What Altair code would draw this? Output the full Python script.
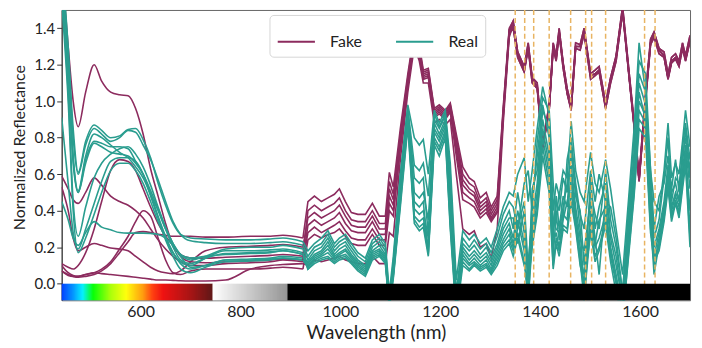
import altair as alt
import pandas as pd

# ---------------- data ----------------
VIS_WL = [442, 455, 465, 475, 490, 507, 522, 540, 558, 575, 590, 605, 620, 635, 650,
          665, 680, 700, 730, 770, 820, 860, 885, 925]
NIR_A_WL = [935, 948, 962, 975, 988, 998, 1010, 1022, 1035, 1050, 1064, 1078, 1090, 1098,
            1106, 1120, 1135, 1148, 1158, 1166, 1176, 1188, 1198, 1210, 1220, 1232, 1245,
            1258, 1268, 1280, 1292, 1302, 1314, 1326, 1338]
NIR_B_WL = [1346, 1355, 1368, 1376, 1384, 1394, 1405, 1418, 1426, 1432, 1438, 1446, 1454,
            1462, 1471, 1480, 1488, 1501, 1510, 1518, 1531, 1541, 1552, 1565, 1578, 1588,
            1598, 1611, 1621, 1628, 1638, 1648, 1656, 1663, 1671, 1678, 1685, 1691, 1700]

FAKE_VIS = {
    "F1": [1.75, 1.30, 1.00, 0.86, 1.05, 1.20, 1.11, 1.05, 1.035, 1.03, 0.96, 0.82, 0.63, 0.48, 0.33, 0.21, 0.16, 0.14, 0.14, 0.145, 0.15, 0.155, 0.16, 0.15],
    "F2": [0.59, 0.52, 0.46, 0.44, 0.50, 0.58, 0.54, 0.48, 0.45, 0.43, 0.40, 0.36, 0.30, 0.24, 0.19, 0.15, 0.12, 0.10, 0.10, 0.11, 0.115, 0.12, 0.13, 0.12],
    "F3": [0.11, 0.09, 0.08, 0.10, 0.17, 0.30, 0.45, 0.62, 0.68, 0.67, 0.62, 0.52, 0.42, 0.33, 0.26, 0.21, 0.15, 0.12, 0.115, 0.12, 0.125, 0.13, 0.135, 0.13],
    "F4": [0.07, 0.045, 0.04, 0.04, 0.05, 0.06, 0.08, 0.12, 0.19, 0.26, 0.34, 0.40, 0.37, 0.25, 0.13, 0.06, 0.05, 0.07, 0.08, 0.08, 0.08, 0.085, 0.09, 0.08],
    "F5": [0.53, 0.40, 0.25, 0.18, 0.20, 0.22, 0.21, 0.195, 0.19, 0.18, 0.15, 0.12, 0.09, 0.07, 0.06, 0.055, 0.07, 0.12, 0.18, 0.20, 0.205, 0.21, 0.215, 0.20],
    "F6": [0.07, 0.05, 0.04, 0.035, 0.04, 0.05, 0.07, 0.11, 0.17, 0.23, 0.28, 0.285, 0.28, 0.27, 0.265, 0.26, 0.26, 0.26, 0.255, 0.255, 0.26, 0.26, 0.265, 0.25],
    "F7": [0.10, 0.06, 0.045, 0.04, 0.05, 0.06, 0.055, 0.05, 0.045, 0.04, 0.035, 0.03, 0.025, 0.02, 0.02, 0.018, 0.016, 0.015, 0.015, 0.02, 0.08, 0.10, 0.105, 0.11],
}
FAKE_NIR_A = {
    "F6": [0.45, 0.48, 0.45, 0.47, 0.49, 0.52, 0.45, 0.39, 0.38, 0.38, 0.44, 0.37, 0.37, 0.61, 0.53, 0.85, 1.15, 1.38, 1.31, 1.17, 1.18, 0.96, 0.98, 0.95, 0.99, 0.82, 0.64, 0.58, 0.56, 0.47, 0.50, 0.42, 0.48, 0.97, 1.40],
    "F1": [0.40, 0.43, 0.40, 0.42, 0.44, 0.47, 0.40, 0.35, 0.34, 0.34, 0.40, 0.33, 0.33, 0.56, 0.49, 0.82, 1.13, 1.37, 1.29, 1.16, 1.17, 0.95, 0.97, 0.94, 0.98, 0.80, 0.60, 0.55, 0.53, 0.44, 0.47, 0.40, 0.46, 0.95, 1.39],
    "F5": [0.36, 0.39, 0.36, 0.38, 0.40, 0.43, 0.37, 0.32, 0.31, 0.31, 0.37, 0.30, 0.30, 0.52, 0.46, 0.80, 1.12, 1.36, 1.28, 1.15, 1.16, 0.94, 0.96, 0.93, 0.97, 0.78, 0.57, 0.52, 0.50, 0.42, 0.45, 0.38, 0.44, 0.94, 1.39],
    "F3": [0.32, 0.35, 0.32, 0.34, 0.36, 0.39, 0.33, 0.29, 0.28, 0.28, 0.34, 0.27, 0.27, 0.48, 0.43, 0.78, 1.10, 1.35, 1.27, 1.14, 1.15, 0.93, 0.95, 0.92, 0.96, 0.76, 0.54, 0.50, 0.48, 0.40, 0.43, 0.36, 0.42, 0.93, 1.38],
    "F2": [0.28, 0.31, 0.28, 0.30, 0.32, 0.34, 0.29, 0.25, 0.24, 0.24, 0.30, 0.24, 0.24, 0.44, 0.40, 0.76, 1.09, 1.34, 1.26, 1.13, 1.14, 0.92, 0.94, 0.91, 0.95, 0.73, 0.50, 0.47, 0.45, 0.38, 0.41, 0.35, 0.40, 0.92, 1.37],
    "F4": [0.24, 0.27, 0.25, 0.27, 0.28, 0.30, 0.26, 0.22, 0.21, 0.21, 0.27, 0.21, 0.21, 0.40, 0.37, 0.74, 1.08, 1.33, 1.25, 1.12, 1.13, 0.91, 0.93, 0.90, 0.94, 0.70, 0.46, 0.44, 0.42, 0.36, 0.39, 0.34, 0.39, 0.91, 1.37],
    "F7": [0.10, 0.13, 0.12, 0.13, 0.14, 0.15, 0.13, 0.12, 0.11, 0.11, 0.15, 0.11, 0.11, 0.28, 0.26, 0.68, 1.05, 1.30, 1.22, 1.10, 1.10, 0.88, 0.90, 0.87, 0.90, 0.60, 0.30, 0.27, 0.29, 0.20, 0.22, 0.14, 0.30, 0.88, 1.35],
}
FAKE_B_TOP = [1.44, 1.27, 1.19, 1.32, 1.13, 1.10, 0.77, 0.98, 1.32, 1.25, 1.40, 1.21, 1.07, 0.98, 1.32, 1.31, 1.40, 1.15, 1.17, 1.19, 0.99, 1.13, 1.25, 1.52, 1.16, 0.89, 0.59, 1.04, 1.34, 1.38, 1.29, 1.27, 1.15, 1.24, 1.26, 1.22, 1.32, 1.25, 1.36]
FAKE_B_MID = [1.42, 1.26, 1.17, 1.30, 1.12, 1.08, 0.75, 0.96, 1.30, 1.24, 1.38, 1.20, 1.05, 0.96, 1.30, 1.30, 1.38, 1.14, 1.15, 1.17, 0.97, 1.12, 1.24, 1.50, 1.14, 0.87, 0.57, 1.02, 1.32, 1.37, 1.28, 1.25, 1.13, 1.22, 1.24, 1.21, 1.30, 1.23, 1.34]
FAKE_B_LOW = [1.40, 1.24, 1.16, 1.29, 1.10, 1.07, 0.74, 0.95, 1.29, 1.22, 1.37, 1.18, 1.04, 0.95, 1.29, 1.28, 1.37, 1.12, 1.14, 1.16, 0.96, 1.10, 1.22, 1.49, 1.13, 0.86, 0.56, 1.00, 1.31, 1.35, 1.26, 1.24, 1.12, 1.21, 1.23, 1.19, 1.29, 1.22, 1.33]
FAKE_NIR_B = {"F6": FAKE_B_TOP, "F1": FAKE_B_TOP, "F5": FAKE_B_MID, "F3": FAKE_B_MID,
              "F2": FAKE_B_LOW, "F4": FAKE_B_LOW, "F7": FAKE_B_MID}

REAL_VIS = {
    "R1": [1.80, 1.30, 0.85, 0.61, 0.78, 0.87, 0.84, 0.80, 0.81, 0.845, 0.85, 0.79, 0.69, 0.55, 0.43, 0.33, 0.27, 0.25, 0.245, 0.24, 0.24, 0.245, 0.25, 0.23],
    "R2": [1.75, 1.25, 0.80, 0.60, 0.76, 0.85, 0.82, 0.78, 0.80, 0.84, 0.83, 0.76, 0.68, 0.57, 0.45, 0.34, 0.27, 0.235, 0.225, 0.22, 0.22, 0.225, 0.23, 0.21],
    "R3": [1.70, 1.20, 0.70, 0.51, 0.70, 0.82, 0.80, 0.76, 0.72, 0.69, 0.64, 0.58, 0.49, 0.40, 0.30, 0.22, 0.16, 0.13, 0.15, 0.19, 0.20, 0.20, 0.21, 0.19],
    "R4": [1.65, 1.15, 0.66, 0.50, 0.68, 0.78, 0.77, 0.75, 0.75, 0.74, 0.67, 0.60, 0.49, 0.37, 0.26, 0.17, 0.11, 0.08, 0.10, 0.13, 0.135, 0.14, 0.15, 0.14],
    "R5": [1.60, 1.05, 0.45, 0.26, 0.42, 0.58, 0.66, 0.71, 0.74, 0.75, 0.71, 0.64, 0.54, 0.42, 0.31, 0.22, 0.16, 0.14, 0.15, 0.16, 0.165, 0.17, 0.18, 0.16],
    "R6": [0.91, 0.55, 0.28, 0.19, 0.30, 0.44, 0.56, 0.67, 0.69, 0.69, 0.67, 0.60, 0.48, 0.36, 0.24, 0.15, 0.08, 0.06, 0.09, 0.12, 0.125, 0.13, 0.14, 0.13],
    "R7": [0.45, 0.35, 0.25, 0.21, 0.28, 0.34, 0.31, 0.295, 0.28, 0.277, 0.277, 0.277, 0.275, 0.27, 0.25, 0.21, 0.15, 0.09, 0.10, 0.13, 0.13, 0.135, 0.14, 0.13],
    "R8": [1.55, 1.00, 0.40, 0.17, 0.25, 0.38, 0.50, 0.62, 0.66, 0.66, 0.62, 0.55, 0.45, 0.34, 0.25, 0.17, 0.12, 0.10, 0.14, 0.18, 0.18, 0.185, 0.19, 0.17],
    "R9": [1.70, 1.15, 0.68, 0.50, 0.66, 0.77, 0.75, 0.72, 0.71, 0.70, 0.66, 0.60, 0.51, 0.41, 0.30, 0.20, 0.13, 0.11, 0.14, 0.165, 0.17, 0.175, 0.18, 0.16],
}
REAL_NIR_A = {
    "R1": [0.18, 0.22, 0.25, 0.29, 0.22, 0.25, 0.27, 0.22, 0.17, 0.14, 0.24, 0.27, 0.22, -0.05, 0.15, 0.60, 0.98, 0.80, 0.76, 0.79, 0.60, 0.95, 0.88, 0.95, 0.66, 0.02, 0.29, 0.24, 0.27, 0.22, 0.25, 0.20, 0.30, 0.42, 0.50],
    "R2": [0.15, 0.20, 0.22, 0.27, 0.20, 0.23, 0.25, 0.20, 0.15, 0.12, 0.22, 0.25, 0.20, -0.08, 0.12, 0.58, 0.96, 0.65, 0.62, 0.66, 0.48, 0.93, 0.86, 0.93, 0.60, -0.05, 0.25, 0.20, 0.24, 0.19, 0.22, 0.17, 0.26, 0.38, 0.45],
    "R3": [0.13, 0.18, 0.20, 0.25, 0.18, 0.21, 0.23, 0.18, 0.13, 0.10, 0.20, 0.23, 0.18, -0.10, 0.10, 0.55, 0.95, 0.58, 0.55, 0.58, 0.27, 0.90, 0.85, 0.92, 0.55, -0.08, 0.22, 0.18, 0.21, 0.16, 0.20, 0.14, 0.22, 0.33, 0.40],
    "R4": [0.12, 0.16, 0.18, 0.23, 0.16, 0.19, 0.21, 0.16, 0.12, 0.09, 0.18, 0.21, 0.16, -0.12, 0.08, 0.52, 0.94, 0.50, 0.47, 0.50, 0.35, 0.88, 0.82, 0.90, 0.50, -0.10, 0.20, 0.15, 0.18, 0.14, 0.17, 0.12, 0.20, 0.30, 0.36],
    "R5": [0.11, 0.15, 0.17, 0.21, 0.15, 0.17, 0.19, 0.15, 0.11, 0.08, 0.17, 0.19, 0.15, -0.10, 0.07, 0.50, 0.93, 0.45, 0.42, 0.45, 0.16, 0.85, 0.80, 0.88, 0.45, -0.12, 0.18, 0.13, 0.16, 0.12, 0.15, 0.10, 0.18, 0.27, 0.33],
    "R6": [0.10, 0.14, 0.16, 0.19, 0.14, 0.16, 0.18, 0.14, 0.10, 0.07, 0.16, 0.18, 0.14, -0.14, 0.06, 0.48, 0.92, 0.41, 0.38, 0.40, 0.25, 0.83, 0.78, 0.86, 0.40, -0.12, 0.16, 0.11, 0.14, 0.10, 0.13, 0.08, 0.16, 0.24, 0.30],
    "R7": [0.09, 0.13, 0.15, 0.17, 0.13, 0.15, 0.16, 0.13, 0.09, 0.06, 0.15, 0.17, 0.13, -0.10, 0.05, 0.46, 0.90, 0.37, 0.34, 0.36, 0.20, 0.80, 0.75, 0.84, 0.35, -0.15, 0.14, 0.10, 0.12, 0.09, 0.11, 0.07, 0.14, 0.22, 0.27],
    "R8": [0.08, 0.12, 0.14, 0.15, 0.12, 0.14, 0.15, 0.12, 0.08, 0.05, 0.14, 0.16, 0.12, -0.12, 0.04, 0.44, 0.88, 0.35, 0.31, 0.33, 0.17, 0.78, 0.73, 0.82, 0.32, -0.15, 0.12, 0.08, 0.11, 0.08, 0.10, 0.06, 0.12, 0.20, 0.24],
    "R9": [0.08, 0.11, 0.13, 0.14, 0.11, 0.13, 0.14, 0.11, 0.07, 0.04, 0.13, 0.15, 0.11, -0.14, 0.03, 0.42, 0.86, 0.33, 0.29, 0.31, 0.15, 0.76, 0.70, 0.80, 0.30, -0.18, 0.10, 0.07, 0.10, 0.07, 0.09, 0.05, 0.10, 0.18, 0.22],
}
REAL_NIR_B = {
    "R1": [0.48, 0.60, 0.69, 0.45, 0.62, 0.85, 1.08, 0.92, 0.40, 0.55, 0.48, 0.62, 0.58, 0.89, 0.62, 0.50, 0.45, 0.72, 0.55, 0.50, 0.68, 0.52, 0.30, 0.05, 0.50, 0.85, 1.32, 1.05, 0.62, 0.45, 0.40, 0.62, 0.88, 0.58, 0.66, 0.60, 0.78, 0.95, 0.75],
    "R2": [0.42, 0.30, 0.55, 0.62, 0.40, 0.78, 1.02, 0.95, 0.55, 0.35, 0.50, 0.35, 0.68, 0.80, 0.55, 0.38, 0.30, 0.62, 0.45, 0.60, 0.45, 0.42, 0.25, -0.05, 0.45, 0.80, 1.22, 1.15, 0.62, 0.30, 0.48, 0.55, 0.70, 0.52, 0.68, 0.50, 0.75, 0.88, 0.68],
    "R3": [0.30, 0.50, 0.28, 0.05, 0.45, 0.70, 0.98, 0.80, 0.30, 0.45, 0.40, 0.58, 0.50, 0.75, 0.48, 0.40, 0.10, 0.50, 0.38, 0.30, 0.62, 0.35, 0.20, -0.05, 0.40, 0.72, 1.15, 1.05, 0.55, 0.25, 0.35, 0.58, 0.80, 0.45, 0.58, 0.55, 0.66, 0.85, 0.62],
    "R4": [0.36, 0.22, 0.40, -0.05, 0.52, 0.62, 0.95, 0.85, 0.25, 0.48, 0.30, 0.48, 0.42, 0.72, 0.52, 0.30, -0.05, 0.58, 0.30, 0.42, 0.55, 0.28, 0.15, -0.10, 0.35, 0.68, 1.10, 0.98, 0.50, 0.20, 0.30, 0.45, 0.65, 0.50, 0.55, 0.45, 0.70, 0.80, 0.58],
    "R5": [0.25, 0.40, 0.22, 0.12, 0.35, 0.55, 0.90, 0.70, 0.35, 0.30, 0.28, 0.42, 0.55, 0.65, 0.42, 0.25, 0.18, 0.45, 0.25, 0.05, 0.48, 0.25, 0.10, -0.10, 0.30, 0.62, 1.05, 0.90, 0.45, 0.15, 0.28, 0.42, 0.60, 0.42, 0.50, 0.45, 0.62, 0.76, 0.52],
    "R6": [0.22, 0.35, 0.18, -0.10, 0.30, 0.50, 0.85, 0.65, 0.15, 0.38, 0.24, 0.38, 0.35, 0.60, 0.38, 0.20, -0.10, 0.40, 0.22, 0.35, 0.42, 0.20, 0.05, -0.15, 0.25, 0.58, 1.00, 0.92, 0.40, 0.10, 0.25, 0.40, 0.62, 0.40, 0.48, 0.42, 0.60, 0.72, 0.40],
    "R7": [0.20, 0.30, 0.45, 0.08, 0.25, 0.45, 0.80, 0.60, 0.22, 0.28, 0.20, 0.35, 0.45, 0.55, 0.35, 0.15, 0.05, 0.35, 0.20, 0.25, 0.38, 0.18, 0.02, -0.15, 0.22, 0.55, 0.95, 0.88, 0.35, 0.05, 0.22, 0.38, 0.58, 0.38, 0.44, 0.40, 0.58, 0.70, 0.30],
    "R8": [0.18, 0.28, 0.12, -0.08, 0.22, 0.40, 0.75, 0.55, 0.10, 0.25, 0.18, 0.32, 0.30, 0.50, 0.32, 0.12, -0.08, 0.30, 0.15, 0.20, 0.35, 0.15, 0.00, -0.20, 0.20, 0.50, 0.90, 0.85, 0.30, 0.15, 0.20, 0.36, 0.55, 0.36, 0.46, 0.38, 0.55, 0.68, 0.25],
    "R9": [0.15, 0.25, 0.10, 0.02, 0.20, 0.38, 0.70, 0.50, 0.08, 0.22, 0.15, 0.30, 0.28, 0.45, 0.30, 0.10, 0.00, 0.28, 0.12, 0.18, 0.32, 0.12, -0.05, -0.20, 0.18, 0.48, 0.85, 0.80, 0.28, 0.12, 0.18, 0.34, 0.52, 0.34, 0.44, 0.36, 0.52, 0.65, 0.20],
}

BAND_LINES = [1350, 1369, 1387, 1418, 1461, 1491, 1503, 1531, 1609, 1630]
X_TICKS = [600, 800, 1000, 1200, 1400, 1600]
Y_TICKS = [0.0, 0.2, 0.4, 0.6, 0.8, 1.0, 1.2, 1.4]

RAINBOW_NM = [442, 464, 484, 505, 540, 571, 604, 624, 645, 700, 744]
RAINBOW_COLORS = ["#0040ff", "#0090ff", "#00f0ff", "#00ff00", "#a8ff00", "#ffff00",
                  "#ff9900", "#ff3300", "#ee0000", "#a00000", "#500000"]
GRAY_NM = [744, 894]
GRAY_COLORS = ["#ffffff", "#888888"]
BLACK_NM = [894, 1700]

FAKE_COLOR = "#8C2B5E"
REAL_COLOR = "#2A9D8F"
FONT = "Lato"

# ---------------- build long table ----------------
rows = []


def add_group(group, vis, nir_a, nir_b):
    for name, v in vis.items():
        assert len(v) == len(VIS_WL), name
        assert len(nir_a[name]) == len(NIR_A_WL), name
        assert len(nir_b[name]) == len(NIR_B_WL), name
        for w, y in zip(VIS_WL, v):
            rows.append({"wl": w, "val": y, "curve": name, "group": group, "part": "vis"})
        nir_w = [VIS_WL[-1]] + NIR_A_WL + NIR_B_WL
        nir_v = [v[-1]] + nir_a[name] + nir_b[name]
        for w, y in zip(nir_w, nir_v):
            rows.append({"wl": w, "val": y, "curve": name, "group": group, "part": "nir"})


add_group("Fake", FAKE_VIS, FAKE_NIR_A, FAKE_NIR_B)
add_group("Real", REAL_VIS, REAL_NIR_A, REAL_NIR_B)
df = pd.DataFrame(rows)

Y_MIN = -0.091
x_scale = alt.Scale(domain=[442, 1700], nice=False, zero=False)
y_scale = alt.Scale(domain=[Y_MIN, 1.5], nice=False, zero=False)
color_scale = alt.Scale(domain=["Fake", "Real"], range=[FAKE_COLOR, REAL_COLOR])
XT = "Wavelength (nm)"

x_axis = alt.Axis(values=X_TICKS, format="d", ticks=False, domain=False, grid=False,
                  labelFontSize=16, titleFontSize=19, labelPadding=3, titlePadding=4,
                  labelColor="#222", titleColor="#222", titleFontWeight="normal")
y_axis = alt.Axis(values=Y_TICKS, format=".1f", grid=False, tickSize=5, tickColor="#333",
                  domainColor="#333", labelFontSize=15, titleFontSize=16, labelPadding=2,
                  titlePadding=6, titleY=138, labelColor="#222", titleColor="#222",
                  titleFontWeight="normal", title="Normalized Reflectance")

legend = alt.Legend(title=None, orient="none", legendX=209, legendY=5, direction="horizontal",
                    columns=2, symbolType="stroke", symbolSize=1400, symbolStrokeWidth=2,
                    labelFontSize=16, labelFont=FONT, labelColor="#222", columnPadding=30,
                    labelOffset=14, padding=7, strokeColor="#d6d6d6", fillColor="white",
                    cornerRadius=4)

base = alt.Chart(df)
vis_lines = base.transform_filter(alt.datum.part == "vis").mark_line(
    clip=True, interpolate="monotone", strokeWidth=1.6
).encode(
    x=alt.X("wl:Q", scale=x_scale, axis=x_axis, title=XT),
    y=alt.Y("val:Q", scale=y_scale, axis=y_axis),
    color=alt.Color("group:N", scale=color_scale, legend=legend),
    detail="curve:N",
)
nir_lines = base.transform_filter(alt.datum.part == "nir").mark_line(
    clip=True, strokeWidth=1.6
).encode(
    x=alt.X("wl:Q", scale=x_scale, title=XT),
    y=alt.Y("val:Q", scale=y_scale),
    color=alt.Color("group:N", scale=color_scale, legend=None),
    detail="curve:N",
)
rules = alt.Chart(pd.DataFrame({"wl": BAND_LINES})).mark_rule(
    color="#E8B462", strokeDash=[5, 3], strokeWidth=1.5
).encode(x=alt.X("wl:Q", scale=x_scale, title=XT))

rain_x = list(range(RAINBOW_NM[0], RAINBOW_NM[-1], 2))
rain_df = pd.DataFrame({"wl": rain_x, "wl2": [v + 2.6 for v in rain_x], "c": [v + 1 for v in rain_x]})
gray_x = list(range(GRAY_NM[0], GRAY_NM[-1], 2))
gray_df = pd.DataFrame({"wl": gray_x, "wl2": [v + 2.6 for v in gray_x], "c": [v + 1 for v in gray_x]})
black_df = pd.DataFrame({"wl": [BLACK_NM[0]], "wl2": [BLACK_NM[1]]})

rainbow = alt.Chart(rain_df).mark_rect(strokeWidth=0).encode(
    x=alt.X("wl:Q", scale=x_scale, title=XT), x2=alt.X2("wl2:Q", title=XT),
    y=alt.datum(Y_MIN), y2=alt.datum(0),
    color=alt.Color("c:Q", scale=alt.Scale(domain=RAINBOW_NM, range=RAINBOW_COLORS, interpolate="rgb"), legend=None),
)
gray = alt.Chart(gray_df).mark_rect(strokeWidth=0).encode(
    x=alt.X("wl:Q", scale=x_scale, title=XT), x2=alt.X2("wl2:Q", title=XT),
    y=alt.datum(Y_MIN), y2=alt.datum(0),
    color=alt.Color("c:Q", scale=alt.Scale(domain=[GRAY_NM[0], GRAY_NM[1]], range=GRAY_COLORS, interpolate="rgb"), legend=None),
)
black = alt.Chart(black_df).mark_rect(color="black").encode(
    x=alt.X("wl:Q", scale=x_scale, title=XT), x2=alt.X2("wl2:Q", title=XT),
    y=alt.datum(Y_MIN), y2=alt.datum(0),
)

chart = alt.layer(vis_lines, nir_lines, rules, rainbow, gray, black).resolve_scale(
    color="independent"
).properties(
    width=632, height=292,
    padding={"left": 4, "top": 0, "right": 4, "bottom": 2},
).configure(font=FONT).configure_view(stroke="#666", strokeWidth=1)

chart.save("out.html", embed_options={"renderer": "svg", "actions": False})
